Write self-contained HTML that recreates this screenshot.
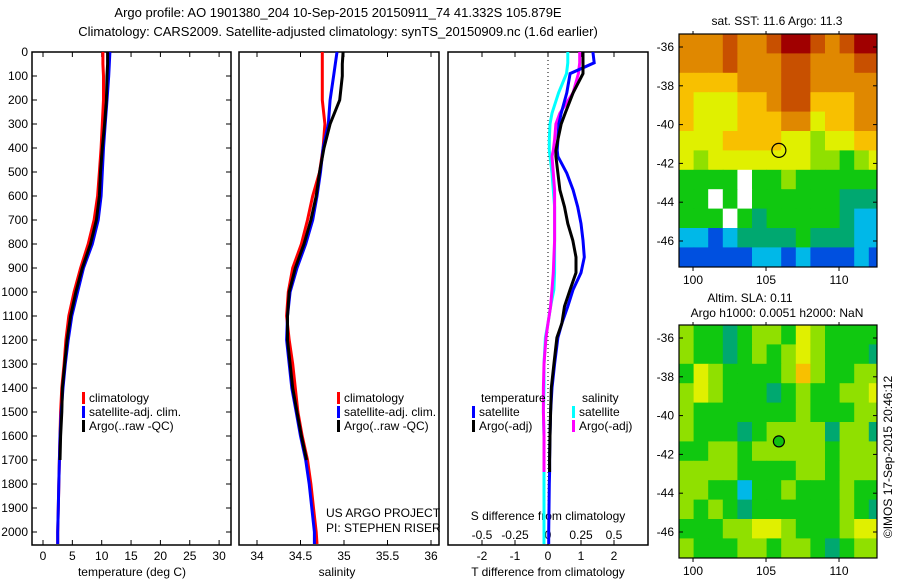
<!DOCTYPE html>
<html><head><meta charset="utf-8"><style>
html,body{margin:0;padding:0;background:#fff;}
svg{display:block;font-family:"Liberation Sans",sans-serif;}
</style></head><body>
<svg id="chart" width="900" height="580" viewBox="0 0 900 580" xmlns="http://www.w3.org/2000/svg">
<text x="338" y="17" font-size="13" text-anchor="middle">Argo profile: AO 1901380_204 10-Sep-2015 20150911_74 41.332S 105.879E</text>
<text x="338" y="36" font-size="13" text-anchor="middle">Climatology: CARS2009. Satellite-adjusted climatology: synTS_20150909.nc (1.6d earlier)</text>
<g id="g"></g>
</svg>
<script>
// ---- data ----
const depths = [0,50,100,200,300,400,500,600,700,800,900,1000,1100,1200,1300,1400,1500,1600,1700,1800,1900,2000,2050];
const tempClim = [10.2,10.2,10.3,10.3,10.1,9.9,9.6,9.3,8.7,7.7,6.4,5.3,4.4,3.9,3.6,3.2,3.0,2.9,2.8,2.7,2.6,2.5,2.5];
const tempSat  = [11.4,11.3,11.2,10.9,10.6,10.3,10.1,9.9,9.4,8.4,6.9,5.9,4.9,4.3,3.8,3.4,3.1,2.9,2.8,2.7,2.6,2.5,2.5];
const tempArgo = [11.0,11.0,10.9,10.8,10.5,10.1,9.8,9.6,9.1,8.1,6.7,5.6,4.7,4.1,3.7,3.3,3.2,3.0,2.9,null,null,null,null];
const salClim = [34.75,34.75,34.75,34.75,34.78,34.76,34.72,34.64,34.58,34.51,34.41,34.36,34.34,34.37,34.41,34.44,34.47,34.52,34.58,34.62,34.65,34.68,34.69];
const salSat  = [34.92,34.90,34.88,34.84,34.82,34.76,34.73,34.69,34.64,34.56,34.46,34.38,34.35,34.34,34.37,34.40,34.45,34.50,34.56,34.60,34.63,34.66,34.66];
const salArgo = [34.99,34.98,34.98,34.95,34.84,34.77,34.72,34.68,34.62,34.54,34.44,34.37,34.35,34.35,34.38,34.41,34.46,34.51,34.57,null,null,null,null];
const diffDepths = [0,45,90,170,255,300,365,410,435,505,575,645,715,785,855,920,990,1060,1130,1190,1300,1400,1500,1600,1700,1750,1800,1900,2000,2050];
const dTSat  = [1.36,1.4,0.67,0.57,0.4,0.33,0.3,0.28,0.3,0.57,0.76,0.9,1.0,1.06,1.1,1.0,0.76,0.6,0.42,0.3,0.2,0.12,0.08,0.06,0.05,0.05,0.04,0.03,0.02,0.02];
const dTArgo = [1.06,1.06,1.06,0.76,0.52,0.4,0.3,0.24,0.24,0.3,0.36,0.5,0.6,0.75,0.85,0.85,0.67,0.5,0.42,0.27,0.18,0.1,0.08,0.06,0.05,0.05,null,null,null,null];
const dSSat  = [0.15,0.15,0.14,0.08,0.03,0.015,0.01,0.01,0.015,0.03,0.04,0.05,0.05,0.05,0.05,0.05,0.045,0.02,0.0,-0.02,-0.03,-0.03,-0.035,-0.03,-0.03,-0.03,-0.03,-0.03,-0.03,-0.03];
const dSArgo = [0.24,0.24,0.23,0.19,0.09,0.06,0.05,0.04,0.03,0.04,0.05,0.05,0.05,0.05,0.045,0.04,0.03,0.02,0.0,-0.015,-0.03,-0.035,-0.035,-0.03,-0.03,-0.03,null,null,null,null];
const depthTicks = [0,100,200,300,400,500,600,700,800,900,1000,1100,1200,1300,1400,1500,1600,1700,1800,1900,2000];
const tempTicks = [0,5,10,15,20,25,30];
const salTicks = [34,34.5,35,35.5,36];
const salTickLabels = ["34","34.5","35","35.5","36"];
const dTTicks = [-2,-1,0,1,2];
const dSTicks = [-0.5,-0.25,0,0.25,0.5];
const dSTickLabels = ["-0.5","-0.25","0","0.25","0.5"];
const lonTicks = [100,105,110];
const latTicks = [-36,-38,-40,-42,-44,-46];
// SST map (1-degree cells, rows north->south, cols 99..113E); -1 = no data
const sstGrid = [
[8,8,8,9,8,8,9,10,10,9,8,9,10,10],
[8,8,8,9,8,8,8,9,9,8,8,8,9,9],
[7,7,7,7,8,8,8,9,9,8,8,8,8,8],
[7,6,6,6,7,7,8,9,9,7,7,7,8,8],
[7,6,6,6,7,7,7,8,8,6,7,7,8,8],
[6,6,6,7,7,7,7,6,6,5,6,6,7,7],
[6,5,6,6,6,6,6,6,6,5,5,4,5,6],
[4,4,4,4,-1,4,4,5,4,4,4,4,4,4],
[4,4,-1,4,-1,4,4,4,4,4,4,3,3,3],
[4,4,4,-1,4,3,4,4,4,4,4,3,2,2],
[2,2,1,2,3,3,3,3,4,3,3,3,2,2],
[1,1,1,1,1,2,2,1,2,1,1,1,2,1]];
const slaGrid = [
[5,4,4,3,4,5,5,4,6,5,4,4,4,4],
[5,4,4,3,4,5,4,5,6,5,4,4,4,3],
[4,6,5,4,4,4,4,5,7,5,4,4,5,5],
[5,6,5,4,4,4,3,4,5,4,4,5,5,6],
[5,4,4,4,4,4,4,4,5,4,4,4,5,5],
[5,4,4,4,3,4,5,5,5,5,3,5,5,3],
[4,4,5,5,4,5,5,5,5,5,4,5,5,5],
[5,5,5,5,4,4,4,4,5,5,4,5,5,5],
[5,5,4,4,2,4,4,5,4,4,4,5,4,4],
[5,4,5,4,3,4,4,4,4,4,4,5,4,3],
[4,4,4,5,5,6,6,5,4,4,4,5,6,6],
[5,4,4,4,5,5,4,5,5,4,3,4,5,5]];
const argoLon = 105.88, argoLat = -41.33;

// ---- helpers ----
const NS="http://www.w3.org/2000/svg";
const G=document.getElementById('g');
function el(t,a,p){const e=document.createElementNS(NS,t);for(const k in a)e.setAttribute(k,a[k]);(p||G).appendChild(e);return e;}
const yD = d => 52 + d*0.24;
const xT = t => 43 + t*5.87;
const xS = s => 257 + (s-34)*87;
const xdT = v => 548 + v*33;
const xdS = v => 548 + v*132;
const PT=52, PB=545;

function panel(x0,x1,name){
  const r=el('rect',{x:x0,y:PT,width:x1-x0,height:PB-PT,fill:'none',stroke:'#000','stroke-width':1.5});
  
  
}
function line(ds,vs,xf,color,name){
  let d='',pen=false;
  ds.forEach((dd,i)=>{const v=vs[i]; if(v===null){pen=false;return;} d+=(pen?'L':'M')+xf(v).toFixed(1)+' '+yD(dd).toFixed(1)+' '; pen=true;});
  const p=el('path',{d:d,fill:'none',stroke:color,'stroke-width':3});
  
  
}
function txt(x,y,s,opts,name){
  const t=el('text',Object.assign({x:x,y:y,'font-size':12},opts||{}));
  t.textContent=s;
  
  
  return t;
}
function xticks(vals,xf,labels,ly,name){
  vals.forEach((v,i)=>{const x=xf(v);
    el('line',{x1:x,y1:PB,x2:x,y2:PB-5,stroke:'#000'});
    el('line',{x1:x,y1:PT,x2:x,y2:PT+5,stroke:'#000'});
    txt(x,ly,labels[i],{'text-anchor':'middle'},name);});
}

panel(32,231,'temperature-panel');
panel(239,439,'salinity-panel');
panel(448,648,'difference-panel');

depthTicks.forEach(d=>{const y=yD(d);
  el('line',{x1:32,y1:y,x2:37,y2:y,stroke:'#000'});
  el('line',{x1:231,y1:y,x2:226,y2:y,stroke:'#000'});
  txt(28,y+4,String(d),{'text-anchor':'end'},'depth-tick-label');});

xticks(tempTicks,xT,tempTicks.map(String),560,'temperature-tick-label');
txt(132,576,'temperature (deg C)',{'text-anchor':'middle'},'temperature-axis-title');
xticks(salTicks,xS,salTickLabels,560,'salinity-tick-label');
txt(337,576,'salinity',{'text-anchor':'middle'},'salinity-axis-title');
xticks(dTTicks,xdT,dTTicks.map(String),560,'t-difference-tick-label');
dSTicks.forEach((v,i)=>txt(xdS(v),539,dSTickLabels[i],{'text-anchor':'middle'},'s-difference-tick-label'));
txt(548,520,'S difference from climatology',{'text-anchor':'middle'},'s-difference-axis-title');
txt(548,576,'T difference from climatology',{'text-anchor':'middle'},'t-difference-axis-title');
el('line',{x1:548,y1:PT,x2:548,y2:PB,stroke:'#000','stroke-dasharray':'1 3'});

line(depths,tempClim,xT,'#f00','temperature-climatology-line');
line(depths,tempSat,xT,'#00f','temperature-satellite-line');
line(depths,tempArgo,xT,'#000','temperature-argo-line');
line(depths,salClim,xS,'#f00','salinity-climatology-line');
line(depths,salSat,xS,'#00f','salinity-satellite-line');
line(depths,salArgo,xS,'#000','salinity-argo-line');
line(diffDepths,dSSat,xdS,'#0ff','s-diff-satellite-line');
line(diffDepths,dSArgo,xdS,'#f0f','s-diff-argo-line');
line(diffDepths,dTSat,xdT,'#00f','t-diff-satellite-line');
line(diffDepths,dTArgo,xdT,'#000','t-diff-argo-line');

function leg(x,y,color,label){
  const r=el('rect',{x:x,y:y-10,width:3,height:12,fill:color});
  
  
  txt(x+7,y,label,{},'legend-entry');
}
leg(82,402,'#f00','climatology');leg(82,416,'#00f','satellite-adj. clim.');leg(82,430,'#000','Argo(..raw -QC)');
leg(337,402,'#f00','climatology');leg(337,416,'#00f','satellite-adj. clim.');leg(337,430,'#000','Argo(..raw -QC)');
txt(481,402,'temperature',{},'legend-title-temperature');
txt(582,402,'salinity',{},'legend-title-salinity');
leg(472,416,'#00f','satellite');leg(472,430,'#000','Argo(-adj)');
leg(572,416,'#0ff','satellite');leg(572,430,'#f0f','Argo(-adj)');
txt(326,517,'US ARGO PROJECT',{},'credit-project');
txt(326,532,'PI: STEPHEN RISER',{},'credit-pi');

const cmap=['#00008c','#0050e0','#00b8e8','#00a870','#10c810','#90e000','#e0f000','#f8c000','#e08800','#c85000','#a00000'];
const lonX = lon => 679 + (lon-99.04)*14.6;
function drawMap(grid,top,name){
  const latY = lat => top + (-35.33-lat)*19.4;
  grid.forEach((row,ri)=>row.forEach((v,ci)=>{
    const x0=lonX(99.04+ci),x1=lonX(Math.min(99.04+ci+1,112.6));
    const y0=latY(-35.33-ri),y1=latY(-35.33-ri-1);
    const c=el('rect',{x:x0,y:y0,width:x1-x0+0.5,height:y1-y0+0.5,fill:v<0?'#fff':cmap[v]});
    
    
  }));
  const r=el('rect',{x:679,y:top,width:198,height:233,fill:'none',stroke:'#000','stroke-width':1.2});
  
  
  latTicks.forEach(l=>{const y=latY(l);
    el('line',{x1:679,y1:y,x2:683,y2:y,stroke:'#000'});el('line',{x1:877,y1:y,x2:873,y2:y,stroke:'#000'});
    txt(674,y+4,String(l),{'text-anchor':'end'},name+'-lat-label');});
  lonTicks.forEach(l=>{const x=lonX(l);
    el('line',{x1:x,y1:top,x2:x,y2:top-3,stroke:'#000'});el('line',{x1:x,y1:top+233,x2:x,y2:top+237,stroke:'#000'});
    txt(x,top+250,String(l),{'text-anchor':'middle'},name+'-lon-label');});
  return latY;
}
const ly1=drawMap(sstGrid,34,'sst-map');
const ly2=drawMap(slaGrid,325,'sla-map');
const m1=el('circle',{cx:lonX(argoLon),cy:ly1(argoLat),r:7,fill:'none',stroke:'#000','stroke-width':1.2});


const m2=el('circle',{cx:lonX(argoLon),cy:ly2(argoLat),r:5.5,fill:'#10c010',stroke:'#000','stroke-width':1.2});


txt(777,25,'sat. SST: 11.6 Argo: 11.3',{'text-anchor':'middle'},'sst-map-title');
txt(750,302,'Altim. SLA: 0.11',{'text-anchor':'middle'},'sla-map-title');
txt(777,317,'Argo h1000: 0.0051 h2000: NaN',{'text-anchor':'middle'},'sla-map-subtitle');
txt(0,0,'©IMOS 17-Sep-2015 20:46:12',{'text-anchor':'middle',transform:'translate(892,457) rotate(-90)'},'imos-timestamp');
</script>
</body></html>
